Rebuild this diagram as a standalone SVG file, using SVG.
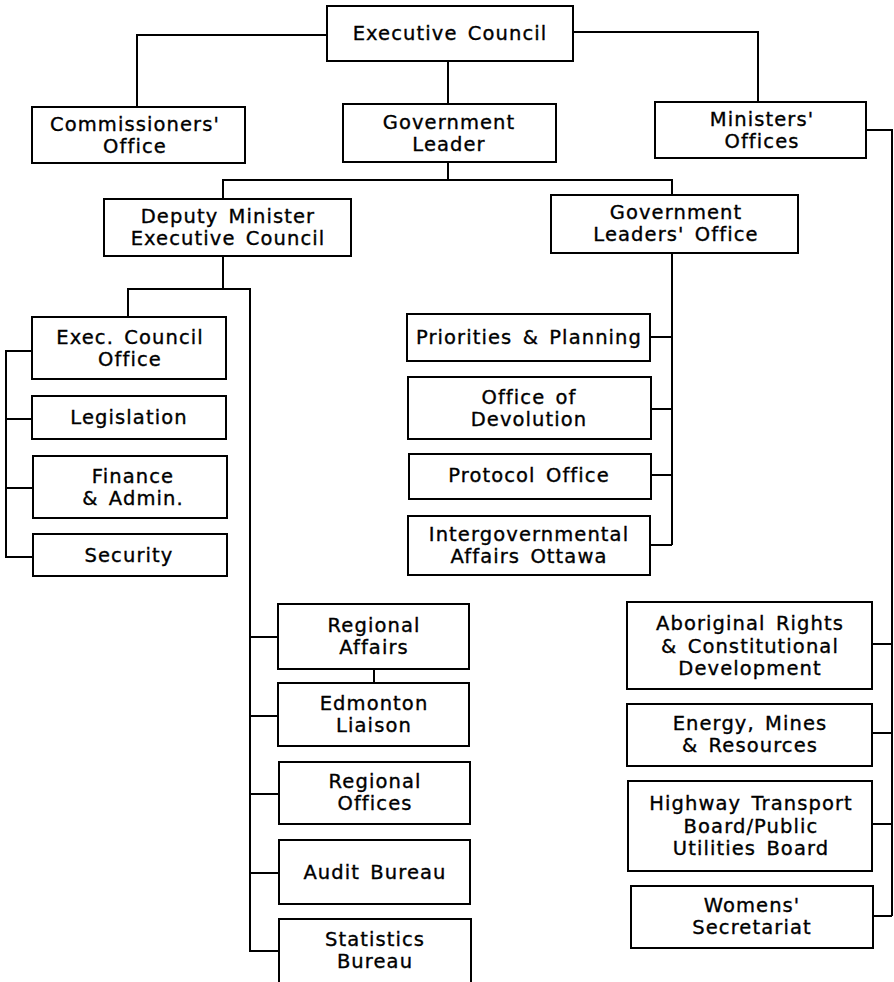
<svg xmlns="http://www.w3.org/2000/svg" width="894" height="982" viewBox="0 0 894 982">
  <style>
    .box { fill: #ffffff; stroke: #000000; stroke-width: 2; }
    .lbl { font-family: "DejaVu Sans", "Liberation Sans", sans-serif; font-size: 19.5px; letter-spacing: 1.1px; word-spacing: 3px; fill: #000000; stroke: #000000; stroke-width: 0.35px; text-anchor: middle; }
    .wire { fill: none; stroke: #000000; stroke-width: 2; }
  </style>
  <rect width="894" height="982" fill="#ffffff"/>

  <!-- connectors -->
  <g id="connectors" class="wire">
    <polyline points="327,35 137,35 137,107"/>
    <polyline points="448,61 448,104"/>
    <polyline points="573,32 758,32 758,102"/>
    <polyline points="866,130 892,130 892,916"/>
    <polyline points="448,162 448,180"/>
    <polyline points="223,199 223,180 672,180 672,195"/>
    <polyline points="672,253 672,545"/>
    <line x1="650" y1="337" x2="672" y2="337"/>
    <line x1="651" y1="409" x2="672" y2="409"/>
    <line x1="651" y1="475" x2="672" y2="475"/>
    <line x1="650" y1="545" x2="672" y2="545"/>
    <polyline points="223,256 223,289"/>
    <polyline points="128,317 128,289 250,289 250,951 279,951"/>
    <polyline points="32,351 6,351 6,557 33,557"/>
    <line x1="6" y1="419" x2="32" y2="419"/>
    <line x1="6" y1="488" x2="33" y2="488"/>
    <line x1="250" y1="637" x2="278" y2="637"/>
    <line x1="250" y1="716" x2="278" y2="716"/>
    <line x1="374" y1="669" x2="374" y2="683"/>
    <line x1="250" y1="794" x2="279" y2="794"/>
    <line x1="250" y1="873" x2="279" y2="873"/>
    <line x1="872" y1="644" x2="892" y2="644"/>
    <line x1="872" y1="733" x2="892" y2="733"/>
    <line x1="872" y1="824" x2="892" y2="824"/>
    <line x1="873" y1="916" x2="892" y2="916"/>
  </g>

  <!-- top level -->
  <g id="executive-council">
    <rect class="box" x="327" y="6" width="246" height="55"/>
    <text class="lbl" x="450" y="40">Executive Council</text>
  </g>
  <g id="commissioners-office">
    <rect class="box" x="32" y="107" width="213" height="56"/>
    <text class="lbl" x="135" y="131">Commissioners'</text>
    <text class="lbl" x="135" y="153">Office</text>
  </g>
  <g id="government-leader">
    <rect class="box" x="343" y="104" width="213" height="58"/>
    <text class="lbl" x="449" y="129">Government</text>
    <text class="lbl" x="449" y="151">Leader</text>
  </g>
  <g id="ministers-offices">
    <rect class="box" x="655" y="102" width="211" height="56"/>
    <text class="lbl" x="762" y="126">Ministers'</text>
    <text class="lbl" x="762" y="148">Offices</text>
  </g>

  <!-- second level -->
  <g id="deputy-minister">
    <rect class="box" x="104" y="199" width="247" height="57"/>
    <text class="lbl" x="228" y="223">Deputy Minister</text>
    <text class="lbl" x="228" y="245">Executive Council</text>
  </g>
  <g id="government-leaders-office">
    <rect class="box" x="551" y="195" width="247" height="58"/>
    <text class="lbl" x="676" y="219">Government</text>
    <text class="lbl" x="676" y="241">Leaders' Office</text>
  </g>

  <!-- executive council branch -->
  <g id="exec-council-office">
    <rect class="box" x="32" y="317" width="194" height="62"/>
    <text class="lbl" x="130" y="344">Exec. Council</text>
    <text class="lbl" x="130" y="366">Office</text>
  </g>
  <g id="legislation">
    <rect class="box" x="32" y="396" width="194" height="43"/>
    <text class="lbl" x="129" y="424">Legislation</text>
  </g>
  <g id="finance-admin">
    <rect class="box" x="33" y="456" width="194" height="62"/>
    <text class="lbl" x="133" y="483">Finance</text>
    <text class="lbl" x="133" y="505">&amp; Admin.</text>
  </g>
  <g id="security">
    <rect class="box" x="33" y="534" width="194" height="42"/>
    <text class="lbl" x="129" y="562">Security</text>
  </g>

  <!-- government leaders' office branch -->
  <g id="priorities-planning">
    <rect class="box" x="407" y="314" width="243" height="47"/>
    <text class="lbl" x="529" y="344">Priorities &amp; Planning</text>
  </g>
  <g id="office-of-devolution">
    <rect class="box" x="408" y="377" width="243" height="62"/>
    <text class="lbl" x="529" y="404">Office of</text>
    <text class="lbl" x="529" y="426">Devolution</text>
  </g>
  <g id="protocol-office">
    <rect class="box" x="409" y="454" width="242" height="45"/>
    <text class="lbl" x="529" y="482">Protocol Office</text>
  </g>
  <g id="intergovernmental-affairs">
    <rect class="box" x="408" y="516" width="242" height="59"/>
    <text class="lbl" x="529" y="541">Intergovernmental</text>
    <text class="lbl" x="529" y="563">Affairs Ottawa</text>
  </g>

  <!-- regional and bureau offices -->
  <g id="regional-affairs">
    <rect class="box" x="278" y="604" width="191" height="65"/>
    <text class="lbl" x="374" y="632">Regional</text>
    <text class="lbl" x="374" y="654">Affairs</text>
  </g>
  <g id="edmonton-liaison">
    <rect class="box" x="278" y="683" width="191" height="63"/>
    <text class="lbl" x="374" y="710">Edmonton</text>
    <text class="lbl" x="374" y="732">Liaison</text>
  </g>
  <g id="regional-offices">
    <rect class="box" x="279" y="762" width="191" height="62"/>
    <text class="lbl" x="375" y="788">Regional</text>
    <text class="lbl" x="375" y="810">Offices</text>
  </g>
  <g id="audit-bureau">
    <rect class="box" x="279" y="840" width="191" height="64"/>
    <text class="lbl" x="375" y="879">Audit Bureau</text>
  </g>
  <g id="statistics-bureau">
    <rect class="box" x="279" y="919" width="192" height="80"/>
    <text class="lbl" x="375" y="946">Statistics</text>
    <text class="lbl" x="375" y="968">Bureau</text>
  </g>

  <!-- ministers' offices branch -->
  <g id="aboriginal-rights">
    <rect class="box" x="627" y="602" width="245" height="87"/>
    <text class="lbl" x="750" y="630">Aboriginal Rights</text>
    <text class="lbl" x="750" y="653">&amp; Constitutional</text>
    <text class="lbl" x="750" y="675">Development</text>
  </g>
  <g id="energy-mines-resources">
    <rect class="box" x="627" y="704" width="245" height="62"/>
    <text class="lbl" x="750" y="730">Energy, Mines</text>
    <text class="lbl" x="750" y="752">&amp; Resources</text>
  </g>
  <g id="highway-transport">
    <rect class="box" x="628" y="781" width="244" height="90"/>
    <text class="lbl" x="751" y="810">Highway Transport</text>
    <text class="lbl" x="751" y="833">Board/Public</text>
    <text class="lbl" x="751" y="855">Utilities Board</text>
  </g>
  <g id="womens-secretariat">
    <rect class="box" x="631" y="886" width="242" height="62"/>
    <text class="lbl" x="752" y="912">Womens'</text>
    <text class="lbl" x="752" y="934">Secretariat</text>
  </g>
</svg>
